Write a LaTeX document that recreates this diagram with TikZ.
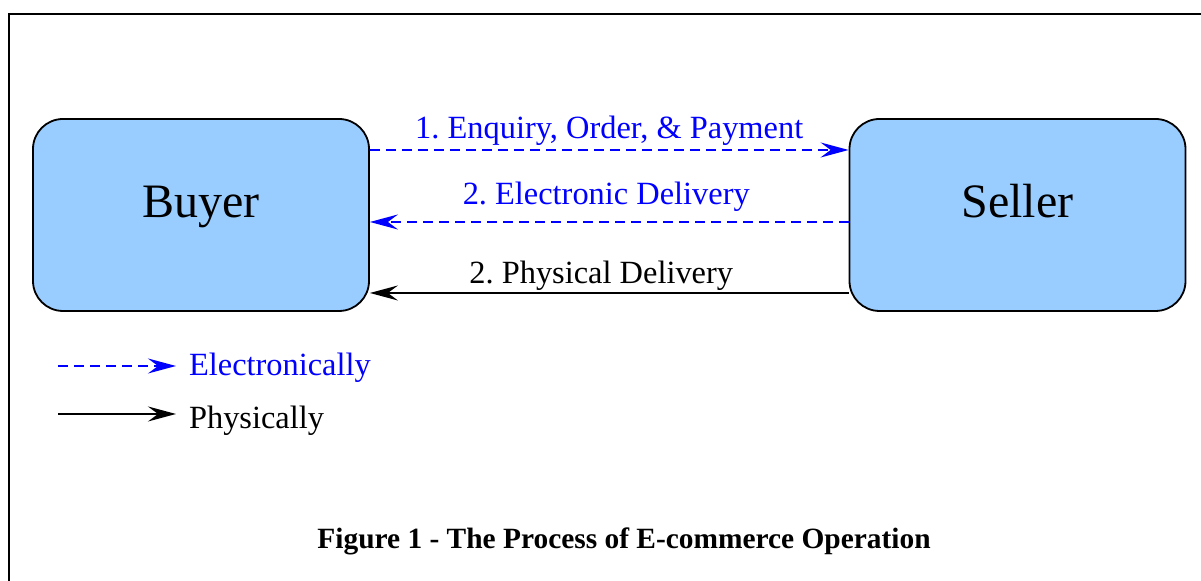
\documentclass[tikz,border=0pt]{standalone}
\usepackage{fontspec}
\setmainfont{Liberation Serif}
\usetikzlibrary{calc}
\usetikzlibrary{arrows.meta}

\definecolor{boxblue}{RGB}{153,204,255}

\begin{document}
\frenchspacing
\begin{tikzpicture} [x=.5pt, y=.5pt,
  party/.style={draw=black, line width=.9pt, fill=boxblue, rounded corners=15pt, minimum width=168pt, minimum height=96pt, text height=17pt, text depth=14pt, font=\fontsize{24}{28}\selectfont},
  elec/.style={blue, dash pattern=on 5pt off 3pt, line width=.9pt, -{Stealth[length=14pt, width=7.5pt, inset=5pt]}},
  phys/.style={black, line width=.9pt, -{Stealth[length=14pt, width=7.5pt, inset=5pt]}},
  lbl/.style={font=\fontsize{16.2}{19}\selectfont}]

\useasboundingbox (0,0) rectangle (1201,581);
\draw[line width=1pt] (9,-20)--(9,567)--(1230,567);

\node[party] (buyer) at (201,366) {Buyer};
\node[party] (seller) at (1017.5,366) {Seller};

\draw[elec] ([yshift=32.5pt]buyer.east)--([yshift=32.5pt]seller.west) node[midway, above, lbl, yshift=-1.5pt] {1. Enquiry, Order, \& Payment};
\draw[elec] ([yshift=-3.5pt]seller.west)--([yshift=-3.5pt]buyer.east) node[midway, above, lbl, yshift=1.5pt, xshift=-1.5pt] {2. Electronic Delivery};
\draw[phys] ([yshift=-39pt]seller.west)--([yshift=-39pt]buyer.east) node[midway, above, lbl, inner sep=1pt, xshift=-4pt] {2. Physical Delivery};

\coordinate (elec0) at (58,215);
\node[lbl, blue, right] (eleckey) at (182,213) {Electronically};
\draw[elec, shorten >=3pt] (elec0)--(elec0 -| eleckey.west);
\coordinate (phys0) at (58,167);
\node[lbl, right] (physkey) at (182,160) {Physically};
\draw[phys, shorten >=3pt] (phys0)--(phys0 -| physkey.west);

\node[font=\fontsize{14.7}{17}\selectfont\bfseries] (caption) at (624,40) {Figure 1 - The Process of E-commerce Operation};

\end{tikzpicture}
\end{document}
